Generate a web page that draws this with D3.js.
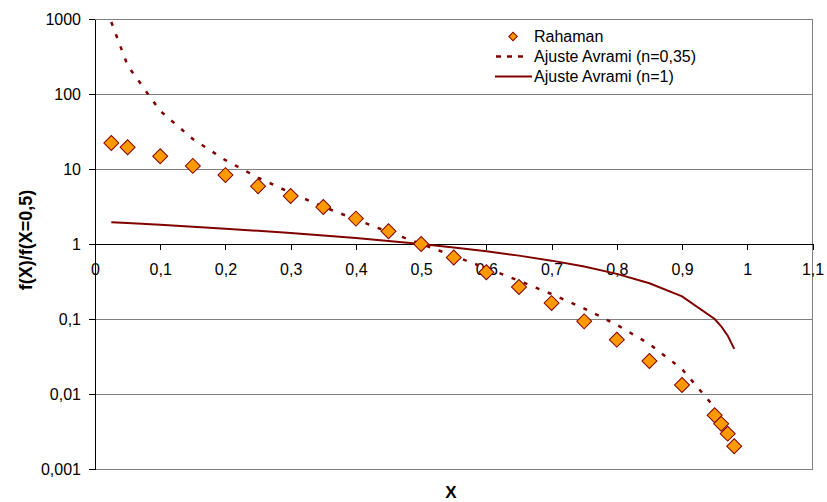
<!DOCTYPE html>
<html>
<head>
<meta charset="utf-8">
<script src="https://cdn.jsdelivr.net/npm/d3@7"></script>
<style>
  html, body { margin: 0; padding: 0; background: #fff; }
  svg { display: block; font-family: "Liberation Sans", Arial, sans-serif; }
</style>
</head>
<body>
<svg id="chart" width="827" height="502"></svg>
<script>
// Fraction transformed X
const xRahaman = [0.025, 0.05, 0.1, 0.15, 0.2, 0.25, 0.3, 0.35, 0.4, 0.45, 0.5, 0.55, 0.6, 0.65, 0.7, 0.75, 0.8, 0.85, 0.9, 0.95, 0.96, 0.97, 0.98];
// Normalised rate f(X)/f(X=0,5), measured
const yRahaman = [22.2, 19.5, 14.8, 11.0, 8.3, 5.9, 4.37, 3.11, 2.18, 1.48, 1.0, 0.66, 0.42, 0.267, 0.163, 0.093, 0.053, 0.0275, 0.0132, 0.0052, 0.0040, 0.00296, 0.00201];

// Avrami fits, sampled at the same X values
const xFit = [0.025, 0.05, 0.1, 0.15, 0.2, 0.25, 0.3, 0.35, 0.4, 0.45, 0.5, 0.55, 0.6, 0.65, 0.7, 0.75, 0.8, 0.85, 0.9, 0.95, 0.96, 0.97, 0.98];
const yAvrami035 = [911, 239, 59.5, 25.1, 13.1, 7.68, 4.81, 3.14, 2.12, 1.448, 1.0, 0.692, 0.4765, 0.324, 0.215, 0.138, 0.0837, 0.0463, 0.0215, 0.0066, 0.00462, 0.00296, 0.00161];
const yAvrami1 = [1.95, 1.9, 1.8, 1.7, 1.6, 1.5, 1.4, 1.3, 1.2, 1.1, 1.0, 0.9, 0.8, 0.7, 0.6, 0.5, 0.4, 0.3, 0.2, 0.1, 0.08, 0.06, 0.04];

const xTicks = [0, 0.1, 0.2, 0.3, 0.4, 0.5, 0.6, 0.7, 0.8, 0.9, 1, 1.1];
const yTicks = [0.001, 0.01, 0.1, 1, 10, 100, 1000];

const seriesNames = ["Rahaman", "Ajuste Avrami (n=0,35)", "Ajuste Avrami (n=1)"];
const xTitle = "X";
const yTitle = "f(X)/f(X=0,5)";

const svg = d3.select("#chart");
const plotLeft = 95, plotRight = 812.5, plotTop = 19, plotBottom = 469;
const dark = "#800000";
const gridColor = "#808080";

const x = d3.scaleLinear().domain([0, 1.1]).range([plotLeft, plotRight]);
const y = d3.scaleLog().domain([0.001, 1000]).range([plotBottom, plotTop]);

const fmt = v => String(v).replace(".", ",");

// horizontal gridlines
svg.append("g").selectAll("line").data(yTicks).join("line")
  .attr("x1", plotLeft).attr("x2", plotRight)
  .attr("y1", d => y(d)).attr("y2", d => y(d))
  .attr("stroke", gridColor).attr("stroke-width", 1)
  .attr("shape-rendering", "crispEdges");

// right border of the plot area
svg.append("line")
  .attr("x1", plotRight).attr("x2", plotRight).attr("y1", plotTop).attr("y2", plotBottom)
  .attr("stroke", gridColor).attr("stroke-width", 1)
  .attr("shape-rendering", "crispEdges");

// y axis (log)
const yAxis = d3.axisLeft(y).tickValues(yTicks).tickFormat(fmt).tickSize(6).tickPadding(8).tickSizeOuter(0);
const gy = svg.append("g").attr("transform", `translate(${plotLeft},0)`).call(yAxis);
gy.select(".domain").attr("stroke", "#000").attr("shape-rendering", "crispEdges");
gy.selectAll(".tick line").attr("stroke", "#000").attr("shape-rendering", "crispEdges");
gy.selectAll(".tick text").attr("font-size", 16).attr("fill", "#000")
  .attr("font-family", "Liberation Sans, Arial, sans-serif").attr("dy", "0.36em");

// x axis crossing at y = 1
const xAxis = d3.axisBottom(x).tickValues(xTicks).tickFormat(fmt).tickSize(6).tickPadding(14).tickSizeOuter(0);
const gx = svg.append("g").attr("transform", `translate(0,${y(1)})`).call(xAxis);
gx.select(".domain").attr("stroke", "#000").attr("shape-rendering", "crispEdges");
gx.selectAll(".tick line").attr("stroke", "#000").attr("shape-rendering", "crispEdges");
gx.selectAll(".tick text").attr("font-size", 16).attr("fill", "#000")
  .attr("font-family", "Liberation Sans, Arial, sans-serif");

// fitted curves
const line = d3.line().x(d => x(d[0])).y(d => y(d[1]));
svg.append("path")
  .datum(xFit.map((v, i) => [v, yAvrami1[i]]))
  .attr("d", line).attr("fill", "none")
  .attr("stroke", dark).attr("stroke-width", 2);
svg.append("path")
  .datum(xFit.map((v, i) => [v, yAvrami035[i]]))
  .attr("d", line).attr("fill", "none")
  .attr("stroke", dark).attr("stroke-width", 2.5)
  .attr("stroke-dasharray", "4,9");

// measured points as diamonds
const diamond = d3.symbol().type(d3.symbolSquare).size(112);
svg.append("g").selectAll("path").data(xRahaman.map((v, i) => [v, yRahaman[i]])).join("path")
  .attr("d", diamond)
  .attr("transform", d => `translate(${x(d[0])},${y(d[1])}) rotate(45)`)
  .attr("fill", "#FF9900").attr("stroke", dark).attr("stroke-width", 1);

// legend
const lg = svg.append("g");
lg.append("path")
  .attr("d", d3.symbol().type(d3.symbolSquare).size(36))
  .attr("transform", "translate(513,36.5) rotate(45)")
  .attr("fill", "#FF9900").attr("stroke", dark).attr("stroke-width", 1);
lg.append("line").attr("x1", 496).attr("x2", 524).attr("y1", 56.5).attr("y2", 56.5)
  .attr("stroke", dark).attr("stroke-width", 2.5).attr("stroke-dasharray", "5,6");
lg.append("line").attr("x1", 495).attr("x2", 532).attr("y1", 76.5).attr("y2", 76.5)
  .attr("stroke", dark).attr("stroke-width", 2);
lg.selectAll("text").data(seriesNames).join("text")
  .attr("x", 534).attr("y", (d, i) => 42 + i * 20)
  .attr("font-size", 16).attr("fill", "#000").text(d => d);

// axis titles
svg.append("text").attr("x", 451).attr("y", 498)
  .attr("text-anchor", "middle").attr("font-size", 17).attr("font-weight", "bold")
  .text(xTitle);
svg.append("text").attr("transform", "translate(32,240) rotate(-90)")
  .attr("text-anchor", "middle").attr("font-size", 18).attr("font-weight", "bold")
  .text(yTitle);
</script>
</body>
</html>
